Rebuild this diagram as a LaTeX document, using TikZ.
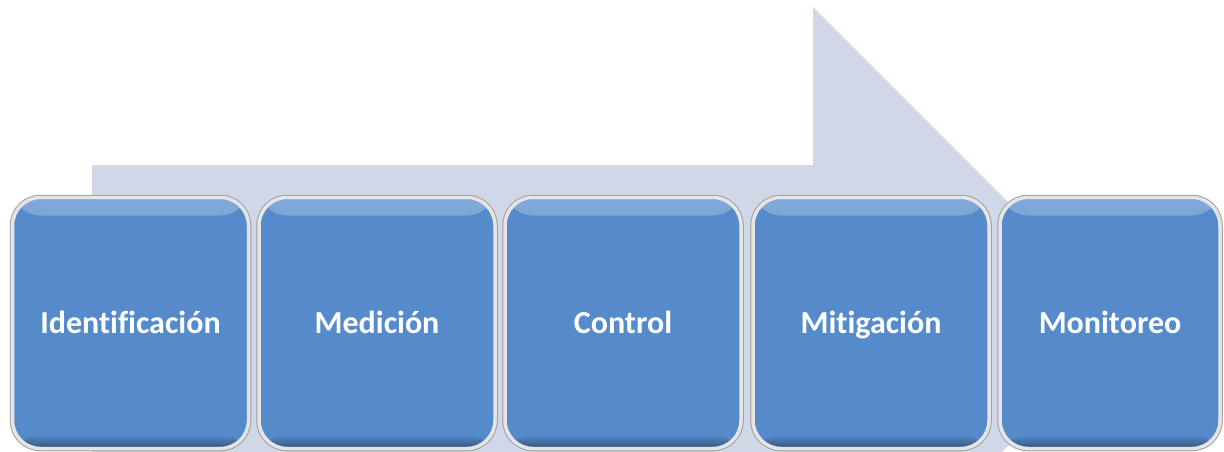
\documentclass[tikz,border=0pt]{standalone}
\usepackage{fontspec}
\setmainfont{Carlito}[Ligatures=NoCommon]
\usetikzlibrary{calc}

\definecolor{boxblue}{RGB}{86,139,203}
\definecolor{arrowgray}{RGB}{208,216,231}

\begin{document}
\begin{tikzpicture}[x=1pt, y=-1pt]
		% Define styles
		\tikzstyle{stage}=[rounded corners=28pt, fill=boxblue, draw=gray!20, line width=3.5pt,
			minimum width=236pt, minimum height=251pt, inner sep=0pt,
			text=white, font=\bfseries\fontsize{32}{36}\selectfont,
			text height=22pt, text depth=2pt,
			preaction={draw=gray!75, line width=5.5pt},
			path picture={
				\fill[top color=boxblue!75!white, bottom color=boxblue]
				([yshift=-2pt]path picture bounding box.north west) rectangle ([yshift=-18pt]path picture bounding box.north east);
				\fill[top color=boxblue, bottom color=boxblue!60!black]
				([yshift=14pt]path picture bounding box.south west) rectangle (path picture bounding box.south east);
			}]
		
		\useasboundingbox (0,0) rectangle (1224,452);
		
		% Background arrow
		\begin{scope}
			\clip (0,0) rectangle (1224,452);
			\fill[arrowgray] (92,165) -- (813,165) -- (813,7) -- (1130,324)
			-- (813,641) -- (813,483) -- (92,483) -- cycle;
		\end{scope}
		
		% Stages
		\node[stage] (ident) at (130.5,323) {Identificación};
		\node[stage] (medic) at (377,323) {Medición};
		\node[stage] (contr) at (623,323) {Control};
		\node[stage] (mitig) at (871,323) {Mitigación};
		\node[stage, minimum width=220pt] (monit) at (1110,323) {Monitoreo};
		
	\end{tikzpicture}
\end{document}
